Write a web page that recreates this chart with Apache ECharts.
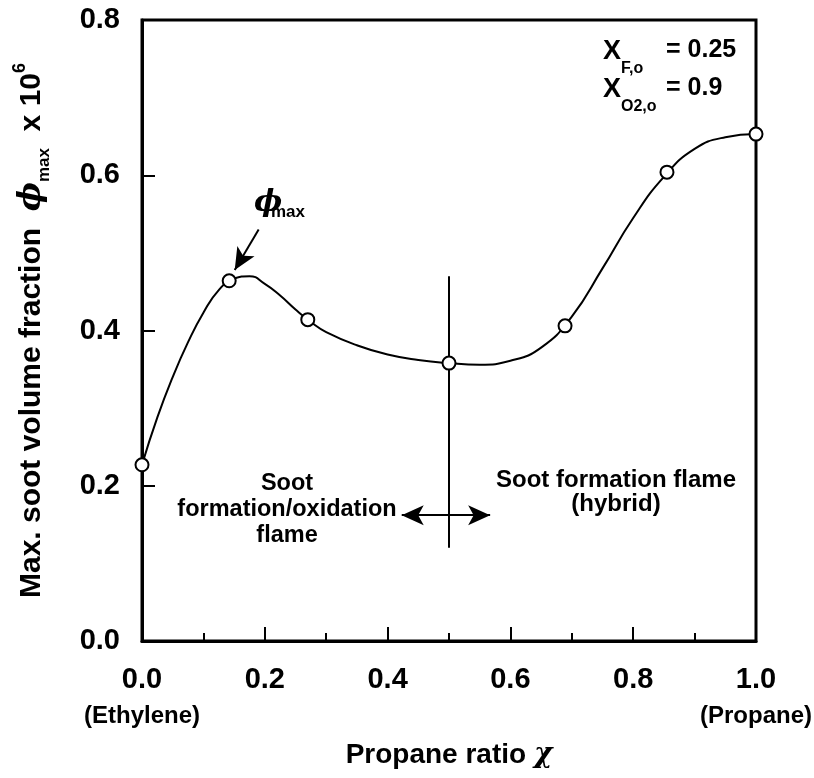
<!DOCTYPE html>
<html>
<head>
<meta charset="utf-8">
<script src="https://cdn.jsdelivr.net/npm/echarts@6/dist/echarts.min.js"></script>
<style>
  html, body { margin: 0; padding: 0; background: #fff; }
  #chart { width: 814px; height: 778px; }
</style>
</head>
<body>
<div id="chart"></div>
<script>
// Measured maximum soot volume fraction (x 10^6) against propane ratio
const chiMeasured = [0.0, 0.142, 0.270, 0.5, 0.689, 0.855, 1.0];
const phiMeasured = [0.227, 0.464, 0.414, 0.358, 0.406, 0.604, 0.653];

// Points along the hand-fitted trend curve
const chiCurve = [0.0, 0.025, 0.05, 0.075, 0.10, 0.125, 0.15, 0.175, 0.20, 0.225, 0.25, 0.275, 0.30, 0.35, 0.40, 0.45, 0.50, 0.55, 0.60, 0.65, 0.70, 0.75, 0.80, 0.85, 0.90, 0.95, 1.0];
const phiCurve = [0.227, 0.288, 0.340, 0.385, 0.423, 0.452, 0.467, 0.470, 0.460, 0.445, 0.427, 0.411, 0.398, 0.381, 0.369, 0.362, 0.358, 0.356, 0.361, 0.378, 0.418, 0.480, 0.545, 0.598, 0.634, 0.649, 0.653];

// Axis ticks
const xTicks = [0.0, 0.2, 0.4, 0.6, 0.8, 1.0];
const yTicks = [0.0, 0.2, 0.4, 0.6, 0.8];
const xEndNotes = { 0: '(Ethylene)', 1: '(Propane)' };

const FONT = '"Liberation Sans", Arial, Helvetica, sans-serif';

const chart = echarts.init(document.getElementById('chart'));

const measured = chiMeasured.map((c, i) => [c, phiMeasured[i]]);
const curve = chiCurve.map((c, i) => [c, phiCurve[i]]);

chart.setOption({
  backgroundColor: '#fff',
  animation: false,
  grid: {
    left: 142, right: 58, top: 20, bottom: 137,
    containLabel: false,
    outerBoundsMode: 'none',
    show: true, borderColor: '#000', borderWidth: 3, backgroundColor: 'transparent'
  },
  xAxis: {
    type: 'value',
    min: xTicks[0], max: xTicks[xTicks.length - 1], interval: 0.2,
    name: 'Propane ratio {chi|χ}',
    nameLocation: 'middle',
    nameGap: 100,
    nameTextStyle: {
      fontFamily: FONT, fontSize: 28, fontWeight: 'bold', color: '#000',
      rich: { chi: { fontFamily: '"DejaVu Serif", serif', fontStyle: 'italic', fontWeight: 'bold', fontSize: 28, color: '#000' } }
    },
    axisLine: { show: true, lineStyle: { color: '#000', width: 3 } },
    axisTick: { show: true, inside: true, length: 14, lineStyle: { color: '#000', width: 2 } },
    minorTick: { show: true, splitNumber: 2, length: 8, lineStyle: { color: '#000', width: 2 } },
    splitLine: { show: false },
    axisLabel: {
      margin: 20,
      color: '#000', fontFamily: FONT, fontSize: 29, fontWeight: 'bold', lineHeight: 37,
      formatter: v => {
        const s = v.toFixed(1);
        const note = xEndNotes[Math.round(v * 10) / 10];
        return note ? s + '\n{note|' + note + '}' : s;
      },
      rich: { note: { fontFamily: FONT, fontSize: 24, fontWeight: 'bold', color: '#000', lineHeight: 37 } }
    }
  },
  yAxis: {
    type: 'value',
    min: yTicks[0], max: yTicks[yTicks.length - 1], interval: 0.2,
    name: 'Max. soot volume fraction  {phi|ϕ}{sub|max}  x 10{sup|6}',
    nameLocation: 'middle',
    nameRotate: 90,
    nameGap: 89,
    nameTextStyle: {
      fontFamily: FONT, fontSize: 30, fontWeight: 'bold', color: '#000', lineHeight: 42,
      rich: {
        phi: { fontFamily: '"DejaVu Serif", serif', fontStyle: 'italic', fontWeight: 'bold', fontSize: 31, color: '#000' },
        sub: { fontFamily: FONT, fontSize: 17, fontWeight: 'bold', color: '#000', verticalAlign: 'bottom', lineHeight: 42 },
        sup: { fontFamily: FONT, fontSize: 18, fontWeight: 'bold', color: '#000', verticalAlign: 'top', lineHeight: 42 }
      }
    },
    axisLine: { show: true, lineStyle: { color: '#000', width: 3 } },
    axisTick: { show: true, inside: true, length: 13, lineStyle: { color: '#000', width: 2 } },
    splitLine: { show: false },
    axisLabel: {
      margin: 22, color: '#000', fontFamily: FONT, fontSize: 29, fontWeight: 'bold',
      formatter: v => v.toFixed(1)
    }
  },
  series: [
    {
      name: 'trend',
      type: 'line',
      data: curve,
      smooth: 0.5,
      showSymbol: false,
      lineStyle: { color: '#000', width: 2 },
      z: 2,
      markLine: {
        silent: true,
        animation: false,
        label: { show: false },
        lineStyle: { color: '#000', width: 2, type: 'solid' },
        data: [
          // regime boundary
          [{ coord: [0.5, 0.47], symbol: 'none' }, { coord: [0.5, 0.12], symbol: 'none' }],
          // double-headed arrow across the boundary
          [{ coord: [0.5, 0.162], symbol: 'none' }, { coord: [0.423, 0.162], symbol: 'arrow', symbolSize: [15, 22] }],
          [{ coord: [0.5, 0.162], symbol: 'none' }, { coord: [0.567, 0.162], symbol: 'arrow', symbolSize: [15, 22] }],
          // pointer to the peak
          [{ coord: [0.19, 0.53], symbol: 'none' }, { coord: [0.151, 0.478], symbol: 'arrow', symbolSize: [15, 22] }]
        ]
      }
    },
    {
      name: 'measured',
      type: 'scatter',
      data: measured,
      symbol: 'circle',
      symbolSize: 13,
      itemStyle: { color: '#fff', borderColor: '#000', borderWidth: 2, opacity: 1 },
      z: 5
    }
  ],
  graphic: [
    { type: 'text', left: 603, top: 38, style: { text: 'X', font: 'bold 27px ' + FONT, fill: '#000' } },
    { type: 'text', left: 621, top: 61, style: { text: 'F,o', font: 'bold 16px ' + FONT, fill: '#000' } },
    { type: 'text', left: 666, top: 38, style: { text: '= 0.25', font: 'bold 25px ' + FONT, fill: '#000' } },
    { type: 'text', left: 603, top: 76, style: { text: 'X', font: 'bold 27px ' + FONT, fill: '#000' } },
    { type: 'text', left: 621, top: 99, style: { text: 'O2,o', font: 'bold 16px ' + FONT, fill: '#000' } },
    { type: 'text', left: 666, top: 76, style: { text: '= 0.9', font: 'bold 25px ' + FONT, fill: '#000' } },
    { type: 'text', left: 254, top: 188, style: { text: 'ϕ', font: 'italic bold 30px "DejaVu Serif", serif', fill: '#000' } },
    { type: 'text', left: 271, top: 204, style: { text: 'max', font: 'bold 17px ' + FONT, fill: '#000' } },
    {
      type: 'text', x: 287, y: 510,
      style: {
        text: 'Soot\nformation/oxidation\nflame',
        font: 'bold 23.5px ' + FONT, lineHeight: 26, fill: '#000',
        align: 'center', verticalAlign: 'middle'
      }
    },
    {
      type: 'text', x: 616, y: 492,
      style: {
        text: 'Soot formation flame\n(hybrid)',
        font: 'bold 24px ' + FONT, lineHeight: 24, fill: '#000',
        align: 'center', verticalAlign: 'middle'
      }
    }
  ]
});
</script>
</body>
</html>
